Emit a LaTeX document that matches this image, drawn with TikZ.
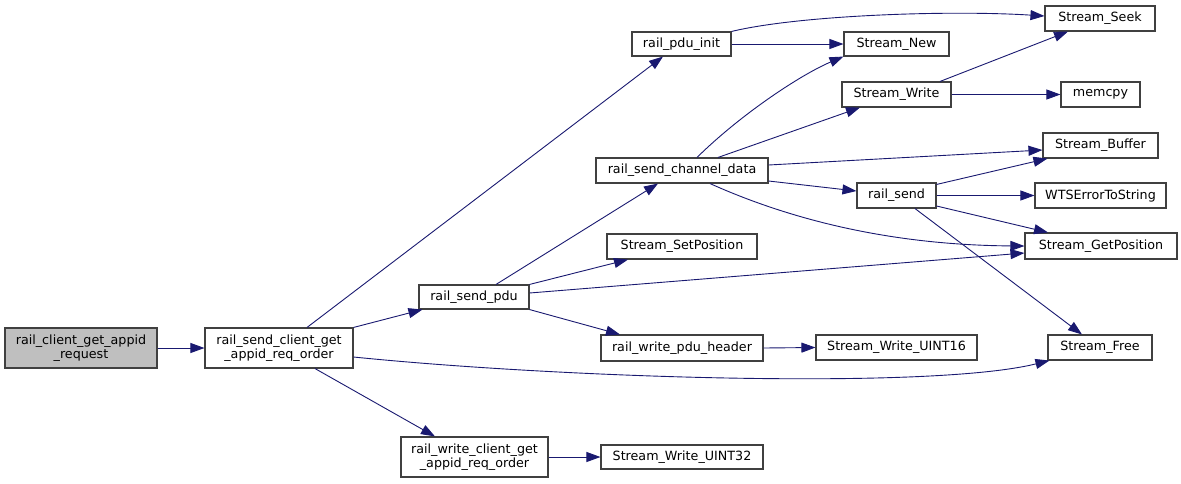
\documentclass[tikz,border=0pt]{standalone}
\usepackage{fontspec}
\setmainfont{DejaVu Sans}
\usetikzlibrary{arrows.meta}
\definecolor{edgecol}{HTML}{191970}
\definecolor{bordercol}{HTML}{404040}
\definecolor{grayfill}{HTML}{BFBFBF}
\begin{document}
\begin{tikzpicture}[x=1pt,y=-1pt,
  box/.style={draw=bordercol, line width=1.1pt, fill=white, inner sep=0pt, align=center,
    font=\fontsize{12.7}{14.5}\selectfont},
  e/.style={draw=edgecol, line width=0.9pt, -{Triangle[length=14pt,width=10pt]}}]
\useasboundingbox (0,0) rectangle (1181,483);
% nodes
\node[box, fill=grayfill, minimum width=152, minimum height=40] (req) at (81,348) {rail\_client\_get\_appid\\\_request};
\node[box, minimum width=148, minimum height=40] (order) at (279,348) {rail\_send\_client\_get\\\_appid\_req\_order};
\node[box, minimum width=99, minimum height=24] (pduinit) at (681.5,44) {rail\_pdu\_init};
\node[box, minimum width=172, minimum height=25] (chdata) at (682,170.5) {rail\_send\_channel\_data};
\node[box, minimum width=110, minimum height=25] (seek) at (1100,18.5) {Stream\_Seek};
\node[box, minimum width=105, minimum height=24] (new) at (896.5,44) {Stream\_New};
\node[box, minimum width=109, minimum height=25] (write) at (896.5,94.5) {Stream\_Write};
\node[box, minimum width=79, minimum height=25] (memcpy) at (1100.5,94.5) {memcpy};
\node[box, minimum width=115, minimum height=25] (buffer) at (1100.5,145.5) {Stream\_Buffer};
\node[box, minimum width=79, minimum height=25] (railsend) at (896.5,195.5) {rail\_send};
\node[box, minimum width=131, minimum height=25] (wts) at (1100.5,195.5) {WTSErrorToString};
\node[box, minimum width=152, minimum height=26] (getpos) at (1101,246) {Stream\_GetPosition};
\node[box, minimum width=161, minimum height=25] (uint16) at (896.5,347.5) {Stream\_Write\_UINT16};
\node[box, minimum width=104, minimum height=25] (free) at (1100,347.5) {Stream\_Free};
\node[box, minimum width=110, minimum height=24] (sendpdu) at (474,297) {rail\_send\_pdu};
\node[box, minimum width=150, minimum height=25] (setpos) at (682,246.5) {Stream\_SetPosition};
\node[box, minimum width=162, minimum height=26] (pduheader) at (682,348) {rail\_write\_pdu\_header};
\node[box, minimum width=147, minimum height=40] (writeclient) at (474.5,457) {rail\_write\_client\_get\\\_appid\_req\_order};
\node[box, minimum width=162, minimum height=24] (uint32) at (682,457) {Stream\_Write\_UINT32};
% edges
\draw[e] (req.east) -- (order.west);
\draw[e] ([xshift=28pt]order.north) -- ([xshift=-18.5pt]pduinit.south);
\draw[e] (order.north east) -- ([xshift=4pt]sendpdu.south west);
\draw[e] ([yshift=-9pt]order.east) .. controls (560,378) and (930,390) .. ([xshift=2pt]free.south west);
\draw[e] ([xshift=36pt]order.south) -- ([xshift=-39.5pt]writeclient.north);
\draw[e] (pduinit.north east) .. controls (800,15) and (950,10) .. ([yshift=2.5pt]seek.west);
\draw[e] (pduinit.east) -- (new.west);
\draw[e] ([xshift=15pt]chdata.north) .. controls (740,115) and (800,75) .. (new.south west);
\draw[e] ([xshift=36pt]chdata.north) -- ([xshift=-36.5pt]write.south);
\draw[e] ([yshift=5.5pt]chdata.east) -- ([yshift=-4.5pt]buffer.west);
\draw[e] ([yshift=-10.5pt]chdata.east) -- ([yshift=4.5pt]railsend.west);
\draw[e] ([xshift=28pt]chdata.south) .. controls (780,215) and (880,245) .. (getpos.west);
\draw[e] ([xshift=43.5pt]write.north) -- ([xshift=-32pt]seek.south);
\draw[e] (write.east) -- (memcpy.west);
\draw[e] ([yshift=-2pt]railsend.north east) -- ([xshift=5pt]buffer.south west);
\draw[e] (railsend.east) -- (wts.west);
\draw[e] ([yshift=-10.5pt]railsend.east) -- ([xshift=-53pt]getpos.north);
\draw[e] ([xshift=18.5pt]railsend.south) -- ([xshift=-18pt]free.north);
\draw[e] ([xshift=22pt]sendpdu.north) -- ([xshift=-24pt]chdata.south);
\draw[e] (sendpdu.north east) -- ([xshift=-54pt]setpos.south);
\draw[e] ([yshift=4pt]sendpdu.east) -- ([yshift=-7pt]getpos.west);
\draw[e] (sendpdu.south east) -- ([xshift=-62pt]pduheader.north);
\draw[e] (pduheader.east) -- (uint16.west);
\draw[e] (writeclient.east) -- (uint32.west);
\end{tikzpicture}
\end{document}
